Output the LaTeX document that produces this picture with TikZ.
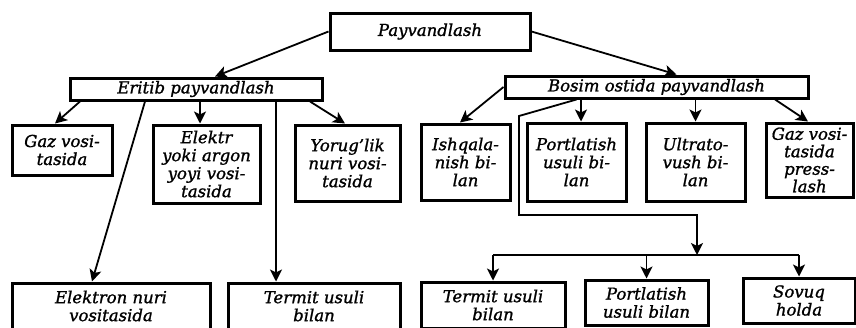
\documentclass[tikz,border=0pt]{standalone}
\usepackage{fontspec}
\setmainfont{DejaVu Serif}[ItalicFeatures={FakeBold=1.2}]
\usetikzlibrary{arrows.meta}
\begin{document}
\begin{tikzpicture}[x=1pt,y=-1pt,
  box/.style={draw,line width=3pt,inner sep=0pt,align=center,
    font=\itshape\fontsize{16.5}{18}\selectfont},
  arr/.style={line width=1.8pt,-{Stealth[length=12pt,width=12pt,inset=3pt]}},
  ln/.style={line width=1.8pt}]
\useasboundingbox (0,0) rectangle (856,327);
\clip (0,0) rectangle (856,327);
% top levels
\node[box,minimum width=200,minimum height=37] (pay) at (430,31.5) {Payvandlash};
\node[box,minimum width=252,minimum height=22] (erit) at (196,89) {Eritib payvandlash};
\node[box,minimum width=303,minimum height=22] (bos) at (656.5,87) {Bosim ostida payvandlash};
% second row
\node[box,minimum width=100,minimum height=50] (gaz1) at (62,150) {Gaz vosi-\\tasida};
\node[box,minimum width=107,minimum height=78] (elek) at (206.5,164) {Elektr\\yoki argon\\yoyi vosi-\\tasida};
\node[box,minimum width=105,minimum height=76] (yor) at (347.5,163) {Yorug'lik\\nuri vosi-\\tasida};
\node[box,minimum width=89,minimum height=76] (ish) at (465.5,162) {Ishqala-\\nish bi-\\lan};
\node[box,minimum width=99,minimum height=78] (port1) at (576.5,162) {Portlatish\\usuli bi-\\lan};
\node[box,minimum width=99,minimum height=78] (ult) at (695.5,162) {Ultrato-\\vush bi-\\lan};
\node[box,minimum width=87,minimum height=74,font=\itshape\fontsize{16.5}{17.5}\selectfont] (gaz2) at (809.5,160) {Gaz vosi-\\tasida\\press-\\lash};
% bottom row
\node[box,minimum width=198,minimum height=46] (eln) at (111,306) {Elektron nuri\\vositasida};
\node[box,minimum width=172,minimum height=46] (ter1) at (314,306) {Termit usuli\\bilan};
\node[box,minimum width=144,minimum height=46] (ter2) at (493,305) {Termit usuli\\bilan};
\node[box,minimum width=123,minimum height=45] (port2) at (646.5,302.5) {Portlatish\\usuli bilan};
\node[box,minimum width=112,minimum height=45] (sov) at (799,300.5) {Sovuq\\holda};
% connectors from top
\draw[arr] (pay.west) -- ([xshift=19pt]erit.north);
\draw[arr] (pay.east) -- ([xshift=20pt]bos.north);
% from Eritib
\draw[arr] ([xshift=-116pt]erit.south) -- ([xshift=-7pt]gaz1.north);
\draw[arr] ([xshift=-6.5pt]elek.north |- erit.south) -- ([xshift=-6.5pt]elek.north);
\draw[arr] ([xshift=114pt]erit.south) -- ([xshift=-2.5pt]yor.north);
\draw[arr] ([xshift=-51pt]erit.south) -- ([xshift=-19pt]eln.north);
\draw[arr] ([xshift=-38pt]ter1.north |- erit.south) -- ([xshift=-38pt]ter1.north);
% from Bosim
\draw[arr] (bos.west) -- ([xshift=-5.5pt]ish.north);
\draw[arr] ([xshift=4.5pt]port1.north |- bos.south) -- ([xshift=4.5pt]port1.north);
\draw[arr] (ult.north |- bos.south) -- (ult.north);
\draw[arr] ([xshift=118.5pt]bos.south) -- ([xshift=-1.5pt]gaz2.north);
\coordinate (bend1) at (519,116);
\coordinate (bend2) at (519,215);
\coordinate (bend3) at (697,215);
\coordinate (split) at (697,255);
\draw[arr] ([xshift=-80pt]bos.south) -- (bend1) -- (bend2) -- (bend3) -- (split);
\draw[ln] (ter2.north |- split) -- (sov.north |- split);
\draw[arr] (ter2.north |- split) -- (ter2.north);
\draw[arr] (port2.north |- split) -- (port2.north);
\draw[arr] (sov.north |- split) -- (sov.north);
\end{tikzpicture}
\end{document}
